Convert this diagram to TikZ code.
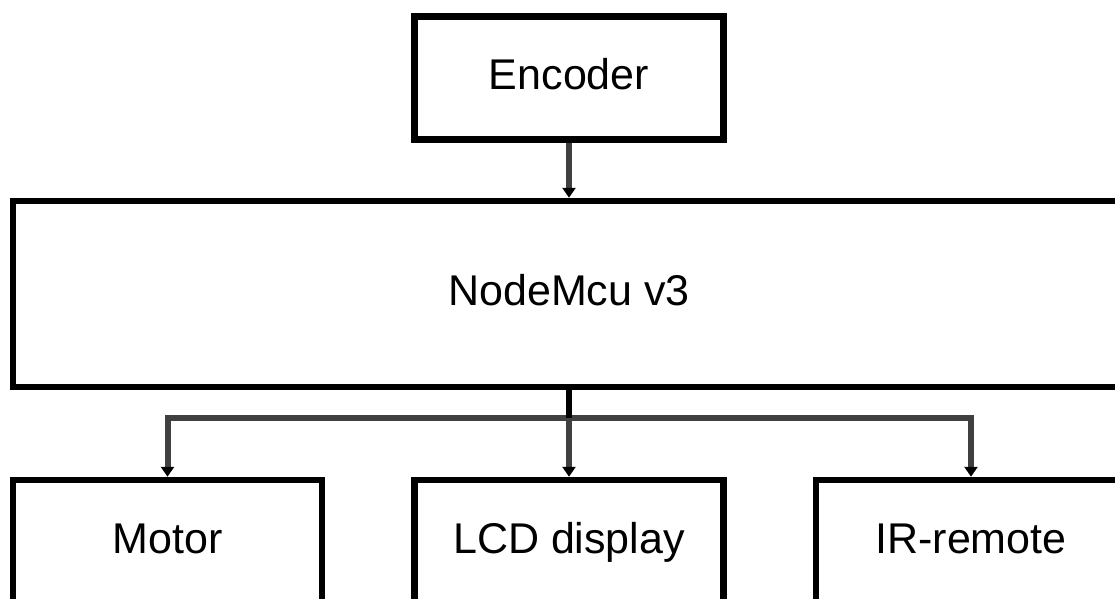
\documentclass[tikz,border=0pt]{standalone}
\usepackage{fontspec}
\setmainfont{Liberation Sans}
\usetikzlibrary{arrows.meta}
\begin{document}
\begin{tikzpicture}[x=1pt,y=-1pt,line join=miter,font=\fontsize{43}{50}\selectfont]
    \tikzset{block/.style={draw=black,line width=6.5pt,rectangle,inner sep=0pt,text height=31pt,text depth=7.7pt,minimum width=309pt,minimum height=123pt},
             link/.style={draw=black!75,line width=6pt,-{Triangle[width=13pt,length=10pt,black]}}}
    \useasboundingbox (0,0) rectangle (1115,598);
    \clip (0,0) rectangle (1115,598);
    % blocks
    \node[block] (enc) at (569,77.75) {Encoder};
    \node[block,minimum width=1112pt,minimum height=186pt] (mcu) at (569,294) {NodeMcu v3};
    \node[block] (motor) at (167.5,541.5) {Motor};
    \node[block] (lcd) at (569,541.5) {LCD display};
    \node[block,minimum width=310pt] (ir) at (971,541.5) {IR-remote};
    % links
    \coordinate (jn) at (569,418);
    \draw[link] (enc.south) -- (mcu.north);
    \draw[link] (jn) -| (motor.north);
    \draw[link] (jn) -| (ir.north);
    \draw[link] (jn) -- (lcd.north);
    \draw[black,line width=6pt] (mcu.south) -- (jn);
\end{tikzpicture}
\end{document}
